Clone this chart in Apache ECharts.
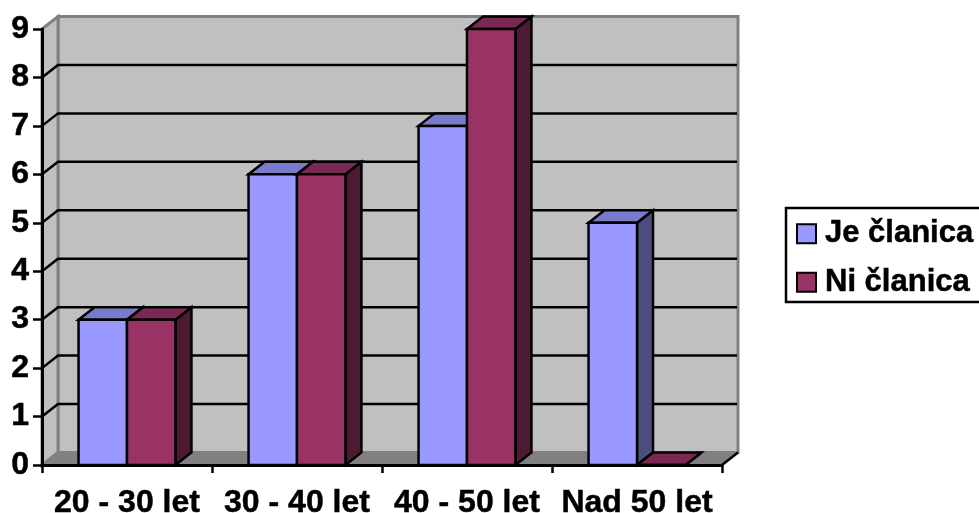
<!DOCTYPE html>
<html>
<head>
<meta charset="utf-8">
<style>
html, body { margin: 0; padding: 0; background: #fff; }
#main { width: 979px; height: 513px; }
</style>
<script src="https://cdn.jsdelivr.net/npm/echarts@6/dist/echarts.min.js"></script>
</head>
<body>
<div id="main"></div>
<script>
var categories = ['20 - 30 let', '30 - 40 let', '40 - 50 let', 'Nad 50 let'];
var jeClanica = [3, 6, 7, 5];
var niClanica = [3, 6, 9, 0];
var yTicks = [0, 1, 2, 3, 4, 5, 6, 7, 8, 9];

// depth of the fake 3d box
var depthX = 16;
var depthY = 12.5;
var barShare = 0.285;
var fontName = '"Liberation Sans", Arial, sans-serif';

function poly(points, fill, stroke, width) {
    return {
        type: 'polygon',
        shape: { points: points },
        style: { fill: fill, stroke: stroke, lineWidth: width, lineJoin: 'miter' }
    };
}

// walls and floor
function renderWalls(params, api) {
    var lb = api.coord([0, 0]);
    var lt = api.coord([0, 9]);
    var band = api.size([1, 0])[0];
    var left = lb[0] - band / 2;
    var right = left + band * categories.length;
    var y0 = lb[1];
    var y9 = lt[1];
    return {
        type: 'group',
        children: [
            poly([[left + depthX, y9 - depthY], [right + depthX, y9 - depthY], [right + depthX, y0 - depthY], [left + depthX, y0 - depthY]], '#c0c0c0', '#808080', 3),
            poly([[left, y9], [left + depthX, y9 - depthY], [left + depthX, y0 - depthY], [left, y0]], '#c0c0c0', '#808080', 3),
            poly([[left, y0], [left + depthX, y0 - depthY], [right + depthX, y0 - depthY], [right, y0]], '#808080', '#808080', 1),
            {
                type: 'line',
                shape: { x1: right, y1: y0, x2: right + depthX, y2: y0 - depthY },
                style: { stroke: '#000', lineWidth: 2.5 }
            }
        ]
    };
}

// grid lines run along the side wall then the back wall, the top one is only the wall edge
function renderGrid(params, api) {
    var v = api.value(0);
    if (v === 0 || v === 9) return null;
    var p = api.coord([0, v]);
    var band = api.size([1, 0])[0];
    var left = p[0] - band / 2;
    var right = left + band * categories.length;
    return {
        type: 'polyline',
        shape: { points: [[left, p[1]], [left + depthX, p[1] - depthY], [right + depthX - 1, p[1] - depthY]] },
        style: { fill: 'none', stroke: '#000', lineWidth: 2.5 }
    };
}

function makeBarRender(offset, front, top, side) {
    return function (params, api) {
        var idx = api.value(0);
        var p0 = api.coord([idx, 0]);
        var p1 = api.coord([idx, api.value(1)]);
        var w = api.size([1, 0])[0] * barShare;
        var x0 = p0[0] + offset * w;
        var x1 = x0 + w;
        var yb = p0[1];
        var yt = p1[1];
        return {
            type: 'group',
            children: [
                poly([[x1, yb], [x1 + depthX, yb - depthY], [x1 + depthX, yt - depthY], [x1, yt]], side, '#000', 2.5),
                poly([[x0, yt], [x0 + depthX, yt - depthY], [x1 + depthX, yt - depthY], [x1, yt]], top, '#000', 2.5),
                poly([[x0, yb], [x1, yb], [x1, yt], [x0, yt]], front, '#000', 2.5)
            ]
        };
    };
}

function pairs(values) {
    return values.map(function (v, i) { return [i, v]; });
}

var chart = echarts.init(document.getElementById('main'));
chart.setOption({
    animation: false,
    backgroundColor: '#fff',
    // outerBoundsMode off, otherwise v6 shrinks the grid to fit the big labels
    grid: { left: 42, right: 257, top: 29, bottom: 48, outerBoundsMode: 'none' },
    legend: {
        show: true,
        data: ['Je članica', 'Ni članica'],
        icon: 'rect',
        orient: 'vertical',
        left: 786,
        top: 208,
        padding: [10, 30, 4, 10],
        itemGap: 17,
        itemWidth: 19,
        itemHeight: 19,
        backgroundColor: '#fff',
        borderColor: '#000',
        borderWidth: 2.5,
        borderRadius: 0,
        textStyle: {
            fontFamily: fontName, fontWeight: 'bold', fontSize: 31, color: '#000',
            textBorderColor: '#000', textBorderWidth: 0.5, padding: [0, 0, 0, 4]
        }
    },
    xAxis: {
        type: 'category',
        data: categories,
        z: 10,
        axisLine: { lineStyle: { color: '#000', width: 3 } },
        axisTick: { show: true, alignWithLabel: false, length: 8, lineStyle: { color: '#000', width: 2.5 } },
        axisLabel: {
            interval: 0, margin: 22, fontFamily: fontName, fontWeight: 'bold', fontSize: 32, color: '#000',
            textBorderColor: '#000', textBorderWidth: 0.5
        },
        splitLine: { show: false }
    },
    yAxis: {
        type: 'value',
        min: 0,
        max: 9,
        interval: 1,
        z: 10,
        axisLine: { show: true, lineStyle: { color: '#000', width: 3 } },
        axisTick: { show: true, length: 9, lineStyle: { color: '#000', width: 2.5 } },
        axisLabel: {
            margin: 13, fontFamily: fontName, fontWeight: 'bold', fontSize: 32, color: '#000',
            textBorderColor: '#000', textBorderWidth: 0.5
        },
        splitLine: { show: false }
    },
    series: [
        { type: 'custom', name: 'walls', silent: true, z: 1, renderItem: renderWalls, data: [0], encode: { y: 0 } },
        { type: 'custom', name: 'grid', silent: true, z: 2, renderItem: renderGrid, data: yTicks.map(function (v) { return [v]; }), encode: { y: 0 } },
        {
            type: 'custom', name: 'Je članica', z: 3,
            itemStyle: { color: '#9999ff', borderColor: '#000', borderWidth: 2.5 },
            renderItem: makeBarRender(-1, '#9999ff', '#7a7acc', '#4d4d80'),
            data: pairs(jeClanica), encode: { x: 0, y: 1 }
        },
        {
            type: 'custom', name: 'Ni članica', z: 3,
            itemStyle: { color: '#993366', borderColor: '#000', borderWidth: 2.5 },
            renderItem: makeBarRender(0, '#993366', '#7a2952', '#4d1a33'),
            data: pairs(niClanica), encode: { x: 0, y: 1 }
        }
    ]
});
</script>
</body>
</html>
